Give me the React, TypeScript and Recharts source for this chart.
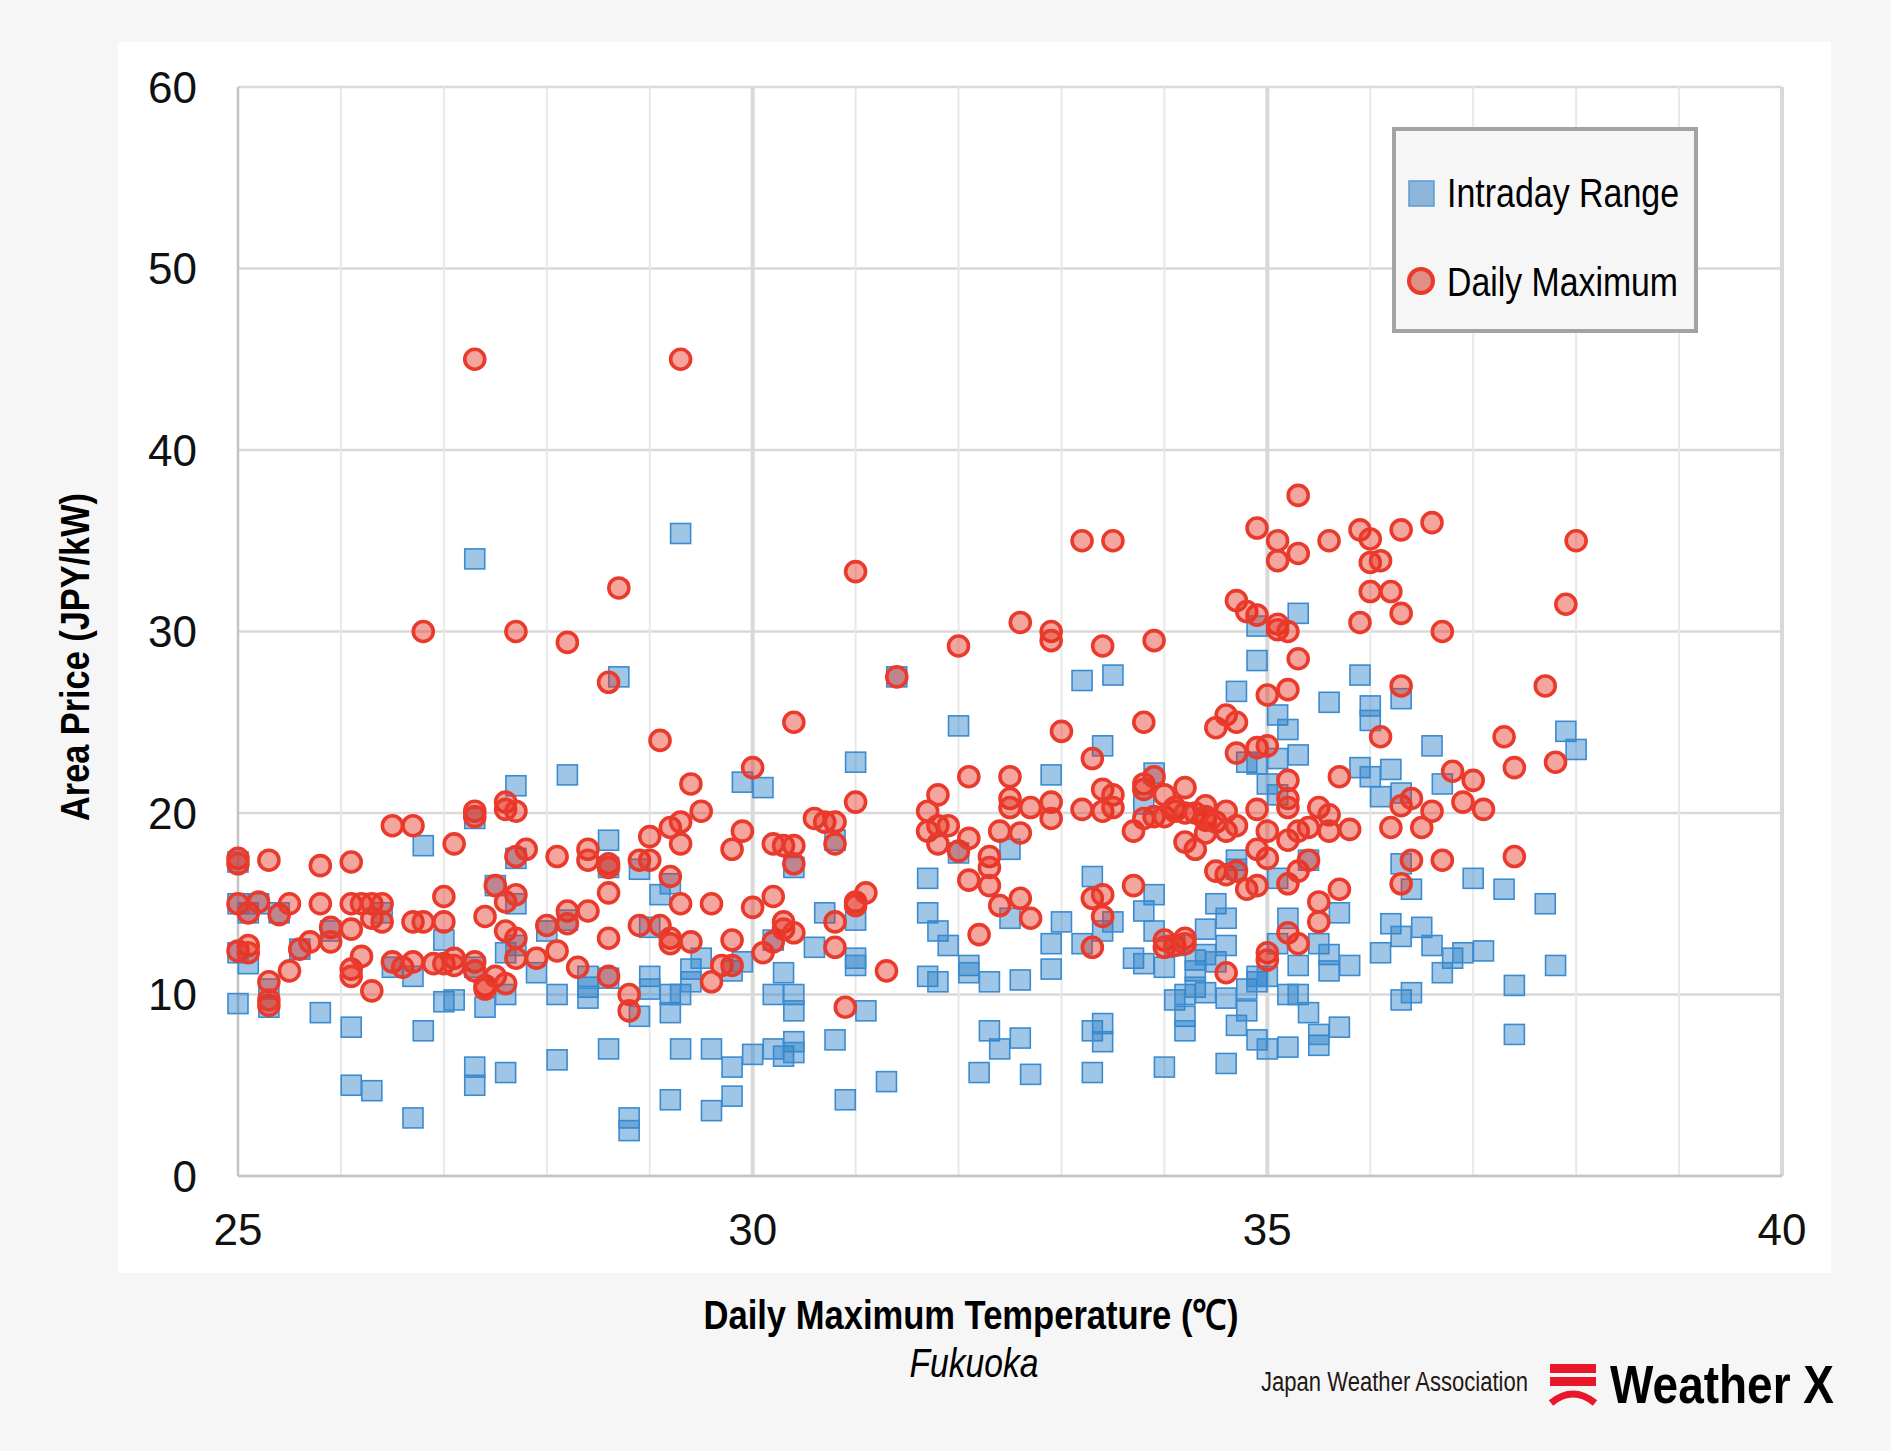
import { ReactNode } from 'react';
import {
  CartesianGrid,
  ReferenceLine,
  Scatter,
  ScatterChart,
  XAxis,
  YAxis
} from 'recharts';

// [daily max temperature, prices observed at that temperature]
const intradayRange: Array<[number, number[]]> = [
  [25.0, [17.3, 15.0, 12.3, 9.5]], [25.1, [14.5, 11.7]], [25.2, [15.0]], [25.3, [9.3, 10.3]],
  [25.4, [14.5]], [25.6, [12.5]], [25.8, [9.0]], [25.9, [13.5]], [26.1, [8.2, 5.0]],
  [26.3, [4.7]], [26.4, [14.5]], [26.5, [11.5]], [26.7, [3.2, 11.0]], [26.8, [18.2, 8.0]],
  [27.0, [13.0, 9.6]], [27.1, [9.7]], [27.3, [34.0, 19.7, 11.5, 6.0, 5.0]], [27.4, [9.3]],
  [27.5, [16.0]], [27.6, [10.0, 5.7, 12.3]], [27.7, [21.5, 17.5, 15.0, 12.7]], [27.9, [11.2]],
  [28.0, [13.5]], [28.1, [10.0, 6.4]], [28.2, [22.1, 14.1]], [28.4, [10.4, 9.8, 11.0]],
  [28.6, [18.5, 17.0, 7.0, 10.9]], [28.7, [27.5]], [28.8, [3.2, 2.5]], [28.9, [16.9, 8.8]],
  [29.0, [11.0, 10.3, 13.7]], [29.1, [15.5]], [29.2, [16.1, 10.0, 9.0, 4.2]],
  [29.3, [35.4, 10.0, 7.0]], [29.4, [11.4, 10.7]], [29.5, [12.0]], [29.6, [7.0, 3.6]],
  [29.8, [11.3, 6.0, 4.4]], [29.9, [21.7, 11.8]], [30.0, [6.7]], [30.1, [21.4]],
  [30.2, [10.0, 7.0, 13.0]], [30.3, [11.2, 6.6]], [30.4, [17.0, 10.0, 9.1, 7.4, 6.8]],
  [30.6, [12.6]], [30.7, [14.5]], [30.8, [18.5, 7.5]], [30.9, [4.2]],
  [31.0, [22.8, 14.1, 12.0, 11.6]], [31.1, [9.1]], [31.3, [5.2]], [31.4, [27.5]],
  [31.7, [16.4, 14.5, 11.0]], [31.8, [13.5, 10.7]], [31.9, [12.7]], [32.0, [24.8, 17.8]],
  [32.1, [11.6, 11.2]], [32.2, [5.7]], [32.3, [10.7, 8.0]], [32.4, [7.0]], [32.5, [18.0, 14.2]],
  [32.6, [10.8, 7.6]], [32.7, [5.6]], [32.9, [22.1, 12.8, 11.4]], [33.0, [14.0]],
  [33.2, [27.3, 12.8]], [33.3, [16.5, 8.0, 5.7]], [33.4, [23.7, 13.5, 8.4, 7.4]],
  [33.5, [27.6, 14.0]], [33.7, [12.0]], [33.8, [14.6, 11.7, 20.5]], [33.9, [22.2, 15.5, 13.5]],
  [34.0, [11.5, 6.0]], [34.1, [9.7, 12.7]], [34.2, [10.0, 8.8, 8.0]], [34.3, [11.9, 11.3, 10.4]],
  [34.4, [13.6, 12.2, 10.1]], [34.5, [15.0, 11.8]], [34.6, [14.2, 12.7, 9.8, 6.2]],
  [34.7, [26.7, 17.4, 16.9, 8.3]], [34.8, [10.3, 9.1, 22.8]],
  [34.9, [30.3, 28.4, 22.7, 10.7, 7.5, 11.0]], [35.0, [11.0, 7.0, 21.6]],
  [35.1, [25.4, 23.0, 21.0, 16.4, 12.8]], [35.2, [24.6, 14.2, 10.0, 7.1]],
  [35.3, [31.0, 23.2, 11.6, 10.0]], [35.4, [17.4, 9.0]], [35.5, [12.8, 7.2, 7.8]],
  [35.6, [26.1, 12.2, 11.3]], [35.7, [14.5, 8.2]], [35.8, [11.6]], [35.9, [27.6, 22.5]],
  [36.0, [25.9, 25.1, 22.0]], [36.1, [20.9, 12.3]], [36.2, [22.4, 13.9]],
  [36.3, [26.3, 21.1, 17.2, 13.2, 9.7]], [36.4, [15.8, 10.1]], [36.5, [13.7]],
  [36.6, [23.7, 12.7]], [36.7, [21.6, 11.2]], [36.8, [12.0]], [36.9, [12.3]], [37.0, [16.4]],
  [37.1, [12.4]], [37.3, [15.8]], [37.4, [10.5, 7.8]], [37.7, [15.0]], [37.8, [11.6]],
  [37.9, [24.5]], [38.0, [23.5]]
];

const dailyMaximum: Array<[number, number[]]> = [
  [25.0, [17.5, 17.2, 15.0, 12.4]], [25.1, [14.5, 12.7, 12.3]], [25.2, [15.1]],
  [25.3, [17.4, 10.7, 9.4, 9.7]], [25.4, [14.4]], [25.5, [15.0, 11.3]], [25.6, [12.5]],
  [25.7, [12.9]], [25.8, [17.1, 15.0]], [25.9, [13.7, 12.9]], [26.1, [17.3, 15.0, 13.6, 11.4, 11.0]],
  [26.2, [15.0, 12.1]], [26.3, [15.0, 14.2, 10.2]], [26.4, [15.0, 14.0]], [26.5, [19.3, 11.8]],
  [26.6, [11.5]], [26.7, [19.3, 14.0, 11.8]], [26.8, [30.0, 14.0]], [26.9, [11.7]],
  [27.0, [15.4, 14.0, 11.7]], [27.1, [18.3, 12.0, 11.6]], [27.3, [45.0, 20.1, 19.8, 11.8, 11.3]],
  [27.4, [14.3, 10.5, 10.3]], [27.5, [16.0, 11.0]], [27.6, [20.6, 20.2, 15.1, 13.5, 10.6]],
  [27.7, [30.0, 20.1, 17.6, 15.5, 13.1, 12.0]], [27.8, [18.0]], [27.9, [12.0]], [28.0, [13.8]],
  [28.1, [17.6, 12.4]], [28.2, [29.4, 14.6, 13.9]], [28.3, [11.5]], [28.4, [18.0, 17.4, 14.6]],
  [28.6, [27.2, 17.2, 17.0, 15.6, 13.1, 11.0]], [28.7, [32.4]], [28.8, [10.0, 9.1]],
  [28.9, [17.4, 13.8]], [29.0, [18.7, 17.4]], [29.1, [24.0, 13.8]], [29.2, [19.2, 16.5, 13.1, 12.8]],
  [29.3, [45.0, 19.5, 18.3, 15.0]], [29.4, [21.6, 12.9]], [29.5, [20.1]], [29.6, [15.0, 10.7]],
  [29.7, [11.6]], [29.8, [18.0, 13.0, 11.6]], [29.9, [19.0]], [30.0, [22.5, 14.8]], [30.1, [12.3]],
  [30.2, [18.3, 15.4, 12.9]], [30.3, [18.2, 14.0, 13.6]], [30.4, [25.0, 18.2, 17.2, 13.4]],
  [30.6, [19.7]], [30.7, [19.5]], [30.8, [19.5, 18.3, 14.0, 12.6]], [30.9, [9.3]],
  [31.0, [33.3, 20.6, 15.1, 14.9]], [31.1, [15.6]], [31.3, [11.3]], [31.4, [27.5]],
  [31.7, [20.1, 19.0]], [31.8, [21.0, 19.3, 18.3]], [31.9, [19.3]], [32.0, [29.2, 17.9]],
  [32.1, [22.0, 18.6, 16.3]], [32.2, [13.3]], [32.3, [17.6, 17.0, 16.0]], [32.4, [19.0, 14.9]],
  [32.5, [22.0, 20.8, 20.3]], [32.6, [30.5, 18.9, 15.3]], [32.7, [20.3, 14.2]],
  [32.9, [30.0, 29.5, 20.6, 19.7]], [33.0, [24.5]], [33.2, [35.0, 20.2]], [33.3, [23.0, 15.3, 12.6]],
  [33.4, [29.2, 21.3, 20.1, 15.5, 14.3]], [33.5, [35.0, 21.0, 20.3]], [33.7, [19.0, 16.0]],
  [33.8, [25.0, 21.6, 21.3, 19.7]], [33.9, [29.5, 22.0, 19.8]], [34.0, [21.0, 19.8, 13.0, 12.6]],
  [34.1, [20.3, 20.1, 12.7]], [34.2, [21.4, 20.0, 18.4, 13.1, 12.8]], [34.3, [20.0, 18.0]],
  [34.4, [20.4, 19.6, 18.9, 19.8]], [34.5, [24.7, 16.8, 19.5]], [34.6, [25.4, 20.1, 19.0, 16.6, 11.2]],
  [34.7, [31.7, 25.0, 23.3, 19.3, 16.8]], [34.8, [31.1, 15.8]],
  [34.9, [35.7, 30.9, 23.6, 20.2, 18.0, 16.0]], [35.0, [26.5, 23.7, 19.0, 17.5, 12.3, 11.9]],
  [35.1, [35.0, 33.9, 30.4, 30.1]], [35.2, [30.0, 26.8, 21.8, 20.8, 20.3, 18.5, 16.1, 13.4]],
  [35.3, [37.5, 34.3, 28.5, 19.0, 16.8, 12.8]], [35.4, [19.2, 17.4]], [35.5, [20.3, 15.1, 14.0]],
  [35.6, [35.0, 19.9, 19.0]], [35.7, [22.0, 15.8]], [35.8, [19.1]], [35.9, [35.6, 30.5]],
  [36.0, [35.1, 33.8, 32.2]], [36.1, [33.9, 24.2]], [36.2, [32.2, 19.2]],
  [36.3, [35.6, 31.0, 27.0, 20.4, 16.1]], [36.4, [20.8, 17.4]], [36.5, [19.2]], [36.6, [36.0, 20.1]],
  [36.7, [30.0, 17.4]], [36.8, [22.3]], [36.9, [20.6]], [37.0, [21.8]], [37.1, [20.2]],
  [37.3, [24.2]], [37.4, [22.5, 17.6]], [37.7, [27.0]], [37.8, [22.8]], [37.9, [31.5]], [38.0, [35.0]]
];

const xTicks = [25, 26, 27, 28, 29, 30, 31, 32, 33, 34, 35, 36, 37, 38, 39, 40];
const xMajor = [30, 35, 40];
const yTicks = [0, 10, 20, 30, 40, 50, 60];

const toPoints = (groups: Array<[number, number[]]>) =>
  groups.flatMap(([x, ys]) => ys.map(y => ({ x, y })));

const rangePoints = toPoints(intradayRange);
const maxPoints = toPoints(dailyMaximum);

const FONT = '"Liberation Sans", Arial, sans-serif';

function SquareMark(props: any): ReactNode {
  const { cx, cy } = props;
  if (cx == null || cy == null) return null;
  return (
    <rect
      x={cx - 10}
      y={cy - 10}
      width={20}
      height={20}
      fill="#2e82c9"
      fillOpacity={0.46}
      stroke="#3a8bd0"
      strokeWidth={1.6}
    />
  );
}

function CircleMark(props: any): ReactNode {
  const { cx, cy } = props;
  if (cx == null || cy == null) return null;
  return (
    <circle
      cx={cx}
      cy={cy}
      r={10}
      fill="#e7321f"
      fillOpacity={0.44}
      stroke="#ea3a2c"
      strokeWidth={3.6}
    />
  );
}

export default function App(): ReactNode {
  return (
    <div
      style={{
        position: 'absolute',
        left: 0,
        top: 0,
        width: 1891,
        height: 1451,
        overflow: 'hidden',
        background: '#f6f6f6',
        fontFamily: FONT
      }}
    >
      <div
        style={{
          position: 'absolute',
          left: 118,
          top: 42,
          width: 1713,
          height: 1231,
          background: '#ffffff'
        }}
      />
      <div style={{ position: 'absolute', left: 0, top: 0 }}>
        <ScatterChart
          width={1891}
          height={1451}
          margin={{ top: 87, right: 109, bottom: 215, left: 138 }}
        >
          <CartesianGrid vertical={false} stroke="#d9d9d9" strokeWidth={2.5} />
          {xTicks
            .filter(t => t > 25 && !xMajor.includes(t))
            .map(t => (
              <ReferenceLine key={t} x={t} stroke="#e8e8e8" strokeWidth={2} />
            ))}
          {xMajor.map(t => (
            <ReferenceLine key={t} x={t} stroke="#d9d9d9" strokeWidth={4} />
          ))}
          <XAxis
            type="number"
            dataKey="x"
            domain={[25, 40]}
            ticks={xTicks}
            interval={0}
            tickFormatter={(v: number) => (v % 5 === 0 ? String(v) : '')}
            height={60}
            tickLine={false}
            tickSize={0}
            tickMargin={38}
            axisLine={{ stroke: '#c4c4c4', strokeWidth: 2.5 }}
            tick={{ fontSize: 44, fill: '#111', fontFamily: FONT }}
          />
          <YAxis
            type="number"
            dataKey="y"
            domain={[0, 60]}
            ticks={yTicks}
            interval={0}
            width={100}
            tickLine={false}
            tickSize={0}
            tickMargin={41}
            axisLine={{ stroke: '#c4c4c4', strokeWidth: 2.5 }}
            tick={{ fontSize: 44, fill: '#111', fontFamily: FONT }}
          />
          <Scatter
            name="Intraday Range"
            data={rangePoints}
            shape={SquareMark}
            isAnimationActive={false}
          />
          <Scatter
            name="Daily Maximum"
            data={maxPoints}
            shape={CircleMark}
            isAnimationActive={false}
          />
        </ScatterChart>
      </div>
      <svg
        width={1891}
        height={1451}
        style={{ position: 'absolute', left: 0, top: 0, pointerEvents: 'none' }}
      >
        {/* legend */}
        <rect x={1394} y={129} width={302} height={202} fill="#f6f6f6" stroke="#a3a3a3" strokeWidth={4} />
        <rect x={1409} y={181} width={25} height={25} fill="#8db4d9" stroke="#5b9bd5" strokeWidth={1.5} />
        <text x={1447} y={207} fontSize={40} fontFamily={FONT} fill="#000" textLength={232} lengthAdjust="spacingAndGlyphs">
          Intraday Range
        </text>
        <circle cx={1421} cy={281} r={12} fill="#e08e88" stroke="#ea3a2c" strokeWidth={4} />
        <text x={1447} y={296} fontSize={40} fontFamily={FONT} fill="#000" textLength={231} lengthAdjust="spacingAndGlyphs">
          Daily Maximum
        </text>

        {/* axis titles */}
        <text
          x={75}
          y={657}
          transform="rotate(-90 75 657)"
          textAnchor="middle"
          dominantBaseline="central"
          fontSize={40}
          fontWeight="bold"
          fontFamily={FONT}
          fill="#000"
          textLength={328}
          lengthAdjust="spacingAndGlyphs"
        >
          Area Price (JPY/kW)
        </text>
        <text
          x={971}
          y={1329}
          textAnchor="middle"
          fontSize={41}
          fontWeight="bold"
          fontFamily={FONT}
          fill="#000"
          textLength={535}
          lengthAdjust="spacingAndGlyphs"
        >
          Daily Maximum Temperature (℃)
        </text>
        <text
          x={974}
          y={1377}
          textAnchor="middle"
          fontSize={40}
          fontStyle="italic"
          fontFamily={FONT}
          fill="#000"
          textLength={129}
          lengthAdjust="spacingAndGlyphs"
        >
          Fukuoka
        </text>

        {/* footer */}
        <text
          x={1261}
          y={1391}
          fontSize={27}
          fontFamily={FONT}
          fill="#231815"
          textLength={267}
          lengthAdjust="spacingAndGlyphs"
        >
          Japan Weather Association
        </text>
        <rect x={1550} y={1364} width={46} height={9} fill="#e8172a" />
        <rect x={1550} y={1377} width={46} height={9} fill="#e8172a" />
        <path d="M1551,1403 Q1573,1385 1595,1403" fill="none" stroke="#e8172a" strokeWidth={7} />
        <text
          x={1610}
          y={1403}
          fontSize={53}
          fontWeight="bold"
          fontFamily={FONT}
          fill="#000"
          textLength={224}
          lengthAdjust="spacingAndGlyphs"
        >
          Weather X
        </text>
      </svg>
    </div>
  );
}
